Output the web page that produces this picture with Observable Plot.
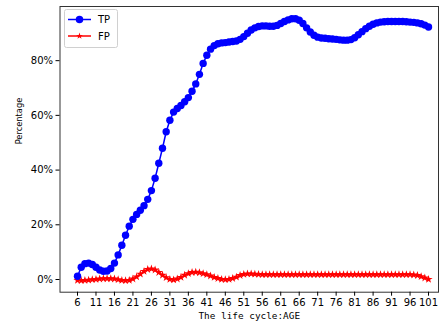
<!DOCTYPE html>
<html>
<head>
<meta charset="utf-8">
<script src="https://cdn.jsdelivr.net/npm/d3@7"></script>
<script src="https://cdn.jsdelivr.net/npm/@observablehq/plot@0.6"></script>
<style>
  html, body { margin: 0; padding: 0; background: #fff; }
  #chart { width: 442px; height: 330px; }
</style>
</head>
<body>
<div id="chart"></div>
<script>
const ages = [6,7,8,9,10,11,12,13,14,15,16,17,18,19,20,21,22,23,24,25,26,27,28,29,30,
  31,32,33,34,35,36,37,38,39,40,41,42,43,44,45,46,47,48,49,50,51,52,53,54,55,56,57,58,59,60,
  61,62,63,64,65,66,67,68,69,70,71,72,73,74,75,76,77,78,79,80,81,82,83,84,85,86,87,88,89,90,
  91,92,93,94,95,96,97,98,99,100,101];

const tpValues = [1.2,4.5,5.8,6.0,5.5,4.5,3.5,3.0,3.1,4.0,6.0,9.0,12.5,16.2,19.5,22.0,23.8,25.3,27.0,29.3,
  32.5,37.0,42.5,48.0,54.0,58.2,61.2,62.5,63.6,65.0,66.5,68.8,71.5,75.0,79.0,82.0,84.2,85.5,86.2,86.5,
  86.6,86.8,87.0,87.2,87.8,88.8,90.0,91.2,92.0,92.5,92.7,92.7,92.6,92.6,92.9,93.6,94.3,94.9,95.3,95.3,
  94.8,93.6,92.0,90.5,89.3,88.6,88.3,88.2,88.0,87.9,87.8,87.6,87.5,87.5,87.7,88.4,89.5,90.6,91.7,92.6,
  93.3,93.8,94.1,94.2,94.3,94.3,94.3,94.3,94.3,94.2,94.1,94.0,93.8,93.5,93.0,92.3];

const fpValues = [-0.3,-0.4,-0.3,-0.2,0.0,0.1,0.2,0.3,0.3,0.3,0.2,0.0,-0.3,-0.4,-0.3,0.2,1.0,2.0,3.0,3.7,
  3.9,3.5,2.6,1.6,0.7,0.1,-0.1,0.2,0.8,1.6,2.2,2.6,2.7,2.5,2.2,1.8,1.3,0.8,0.4,0.1,
  0.0,0.1,0.4,0.9,1.5,1.9,2.1,2.1,2.0,1.9,1.8,1.8,1.8,1.8,1.8,1.8,1.8,1.8,1.8,1.8,
  1.8,1.8,1.8,1.8,1.8,1.8,1.8,1.8,1.8,1.8,1.8,1.8,1.8,1.8,1.8,1.8,1.8,1.8,1.8,1.8,
  1.8,1.8,1.8,1.8,1.8,1.8,1.8,1.8,1.8,1.8,1.8,1.7,1.5,1.1,0.6,0.1];

const xTicks = [6,11,16,21,26,31,36,41,46,51,56,61,66,71,76,81,86,91,96,101];
const yTicks = [0,20,40,60,80];
const seriesNames = ["TP", "FP"];
const xLabel = "The life cycle:AGE";
const yLabel = "Percentage";

const tp = ages.map((a, i) => ({age: a, v: tpValues[i]}));
const fp = ages.map((a, i) => ({age: a, v: fpValues[i]}));

const blue = "#0000ff", red = "#ff0000";

const chart = Plot.plot({
  width: 442,
  height: 330,
  marginLeft: 59.5,
  marginRight: 4,
  marginTop: 6,
  marginBottom: 38.3,
  style: {fontFamily: "DejaVu Sans, sans-serif", fontSize: "10px", background: "#fff", color: "#000"},
  x: {domain: [1.26, 103.7]},
  y: {domain: [-4.64, 99.8]},
  marks: [
    Plot.frame({stroke: "#333", strokeWidth: 1}),
    Plot.axisX({ticks: xTicks, tickSize: 4, tickPadding: 3, tickFormat: d => String(d), label: null, fontSize: 10}),
    Plot.axisY({ticks: yTicks, tickSize: 4, tickPadding: 3, tickFormat: d => d + "%", label: null, fontSize: 10}),
    Plot.line(fp, {x: "age", y: "v", stroke: red, strokeWidth: 1.5}),
    Plot.dot(fp, {x: "age", y: "v", symbol: "star", r: 2.6, fill: red, stroke: "none"}),
    Plot.line(tp, {x: "age", y: "v", stroke: blue, strokeWidth: 1.5}),
    Plot.dot(tp, {x: "age", y: "v", r: 3.7, fill: blue, stroke: "none"}),
    Plot.text([xLabel], {frameAnchor: "bottom", dy: 27, text: d => d, fontFamily: "DejaVu Sans Mono, monospace", fontSize: 9.4, fill: "#000"}),
    Plot.text([yLabel], {frameAnchor: "left", dx: -41, dy: -5, rotate: -90, text: d => d, fontSize: 8.3, fill: "#000"})
  ]
});

document.getElementById("chart").appendChild(chart);

// Legend (matplotlib-style, upper left)
const svg = d3.select(chart);
const lg = svg.append("g").attr("font-family", "DejaVu Sans, sans-serif").attr("font-size", 10)
  .attr("text-anchor", "start");
lg.append("rect").attr("x", 64.5).attr("y", 9.5).attr("width", 53).attr("height", 38)
  .attr("rx", 2).attr("fill", "#fff").attr("fill-opacity", 0.8).attr("stroke", "#d0d0d0");
const entries = [
  {name: seriesNames[0], color: blue, sym: d3.symbolCircle, size: 44, y: 19.5},
  {name: seriesNames[1], color: red, sym: d3.symbolStar, size: 14, y: 36}
];
for (const e of entries) {
  lg.append("line").attr("x1", 68).attr("x2", 91).attr("y1", e.y).attr("y2", e.y)
    .attr("stroke", e.color).attr("stroke-width", 1.5);
  lg.append("path").attr("d", d3.symbol(e.sym, e.size)()).attr("transform", `translate(79.5,${e.y})`)
    .attr("fill", e.color);
  lg.append("text").attr("x", 98).attr("y", e.y).attr("dy", "0.35em").attr("text-anchor", "start")
    .attr("fill", "#000").text(e.name);
}
</script>
</body>
</html>
